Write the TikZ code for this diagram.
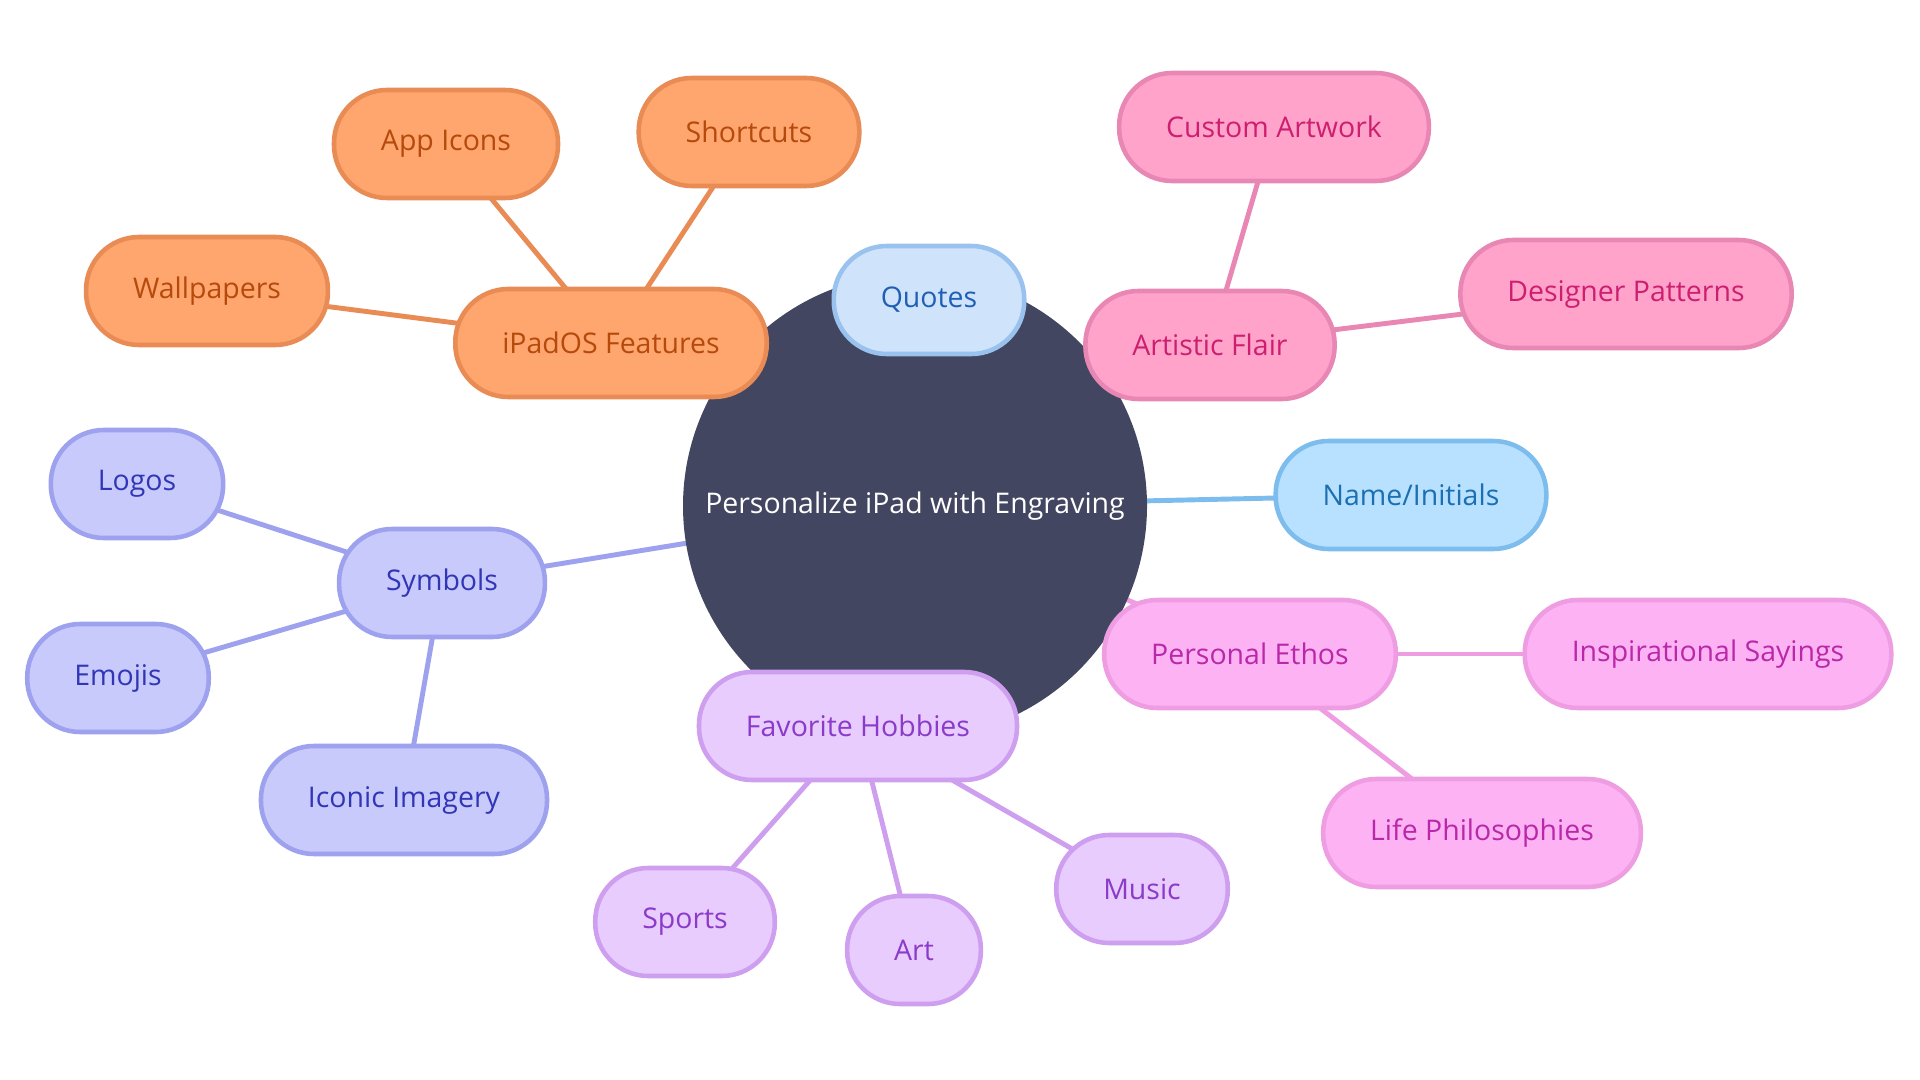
\documentclass[tikz,border=0pt]{standalone}
\usepackage{fontspec}
\setmainfont{Open Sans}
\usetikzlibrary{backgrounds}

\definecolor{hubfill}{HTML}{424660}
\definecolor{orfill}{HTML}{FFA56E}
\definecolor{orline}{HTML}{E98B54}
\definecolor{ortext}{HTML}{B54A0C}
\definecolor{qufill}{HTML}{CFE3FB}
\definecolor{quline}{HTML}{9AC2EE}
\definecolor{qutext}{HTML}{1F5FB5}
\definecolor{nmfill}{HTML}{B8E0FF}
\definecolor{nmline}{HTML}{7CBDEE}
\definecolor{nmtext}{HTML}{1C6FB0}
\definecolor{pkfill}{HTML}{FFA3CB}
\definecolor{pkline}{HTML}{E987B4}
\definecolor{pktext}{HTML}{CC1F70}
\definecolor{etfill}{HTML}{FDB3F3}
\definecolor{etline}{HTML}{EE9DE2}
\definecolor{ettext}{HTML}{B828A8}
\definecolor{hbfill}{HTML}{E7CCFD}
\definecolor{hbline}{HTML}{CE9EEF}
\definecolor{hbtext}{HTML}{8B3AC9}
\definecolor{syfill}{HTML}{C8CAFC}
\definecolor{syline}{HTML}{9DA1EE}
\definecolor{sytext}{HTML}{3136B5}

\begin{document}
\begin{tikzpicture}[
    leaf/.style={draw, line width=1.3pt, rounded corners=0.53cm, minimum height=1.08cm,
      inner xsep=0.47cm, font=\fontsize{8.1pt}{9.5pt}\selectfont},
    orbox/.style={leaf, fill=orfill, draw=orline, text=ortext},
    qubox/.style={leaf, fill=qufill, draw=quline, text=qutext},
    nmbox/.style={leaf, fill=nmfill, draw=nmline, text=nmtext},
    pkbox/.style={leaf, fill=pkfill, draw=pkline, text=pktext},
    etbox/.style={leaf, fill=etfill, draw=etline, text=ettext},
    hbbox/.style={leaf, fill=hbfill, draw=hbline, text=hbtext},
    sybox/.style={leaf, fill=syfill, draw=syline, text=sytext},
    link/.style={line width=1.4pt}]
    \useasboundingbox (0,0) rectangle (19.2,-10.8);
    \node[circle, fill=hubfill, text=white, minimum size=4.64cm, inner sep=0pt,
      font=\fontsize{8.1pt}{9.5pt}\selectfont] (hub) at (9.15,-5.06) {Personalize iPad with Engraving};
    % first ring
    \node[qubox] (quotes) at (9.29,-3.00) {Quotes};
    \node[pkbox] (flair) at (12.10,-3.45) {Artistic Flair};
    \node[nmbox] (names) at (14.11,-4.95) {Name/Initials};
    \node[etbox] (ethos) at (12.50,-6.54) {Personal Ethos};
    \node[hbbox] (hobbies) at (8.58,-7.26) {Favorite Hobbies};
    \node[orbox] (ipados) at (6.11,-3.43) {iPadOS Features};
    \node[sybox] (symbols) at (4.42,-5.83) {Symbols};
    % second ring
    \node[pkbox] (artwork) at (12.74,-1.27) {Custom Artwork};
    \node[pkbox] (patterns) at (16.26,-2.94) {Designer Patterns};
    \node[etbox] (sayings) at (17.08,-6.54) {Inspirational Sayings};
    \node[etbox] (philo) at (14.82,-8.33) {Life Philosophies};
    \node[hbbox] (sports) at (6.85,-9.22) {Sports};
    \node[hbbox] (art) at (9.14,-9.50) {Art};
    \node[hbbox] (music) at (11.42,-8.89) {Music};
    \node[orbox] (wallpapers) at (2.07,-2.91) {Wallpapers};
    \node[orbox] (appicons) at (4.46,-1.44) {App Icons};
    \node[orbox] (shortcuts) at (7.49,-1.32) {Shortcuts};
    \node[sybox] (logos) at (1.37,-4.84) {Logos};
    \node[sybox] (emojis) at (1.18,-6.78) {Emojis};
    \node[sybox] (imagery) at (4.04,-8.00) {Iconic Imagery};
    \begin{scope}[on background layer]
        \draw[link, draw=quline] (hub.center) -- (quotes.center);
        \draw[link, draw=nmline] (hub.center) -- (names.center);
        \draw[link, draw=pkline] (hub.center) -- (flair.center);
        \draw[link, draw=pkline] (flair.center) -- (artwork.center);
        \draw[link, draw=pkline] (flair.center) -- (patterns.center);
        \draw[link, draw=etline] (hub.center) -- (ethos.center);
        \draw[link, draw=etline] (ethos.center) -- (sayings.center);
        \draw[link, draw=etline] (ethos.center) -- (philo.center);
        \draw[link, draw=hbline] (hub.center) -- (hobbies.center);
        \draw[link, draw=hbline] (hobbies.center) -- (sports.center);
        \draw[link, draw=hbline] (hobbies.center) -- (art.center);
        \draw[link, draw=hbline] (hobbies.center) -- (music.center);
        \draw[link, draw=orline] (hub.center) -- (ipados.center);
        \draw[link, draw=orline] (ipados.center) -- (wallpapers.center);
        \draw[link, draw=orline] (ipados.center) -- (appicons.center);
        \draw[link, draw=orline] (ipados.center) -- (shortcuts.center);
        \draw[link, draw=syline] (hub.center) -- (symbols.center);
        \draw[link, draw=syline] (symbols.center) -- (logos.center);
        \draw[link, draw=syline] (symbols.center) -- (emojis.center);
        \draw[link, draw=syline] (symbols.center) -- (imagery.center);
    \end{scope}
\end{tikzpicture}
\end{document}
